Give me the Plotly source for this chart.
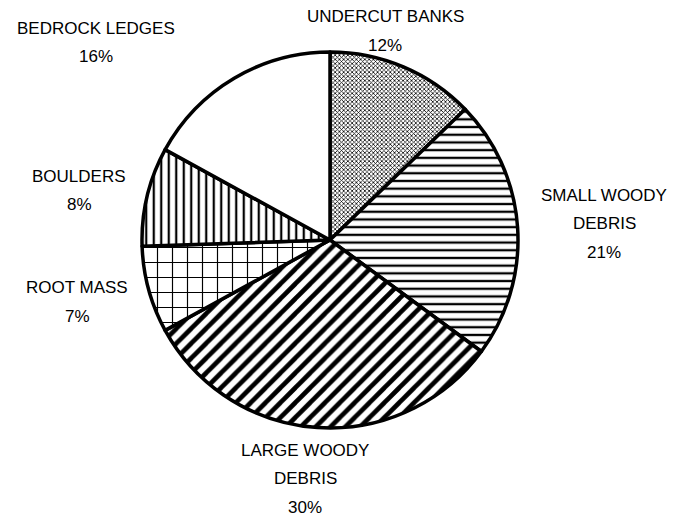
import plotly.graph_objects as go

# Habitat cover types, clockwise from 12 o'clock
categories = ["UNDERCUT BANKS", "SMALL WOODY DEBRIS", "LARGE WOODY DEBRIS",
              "ROOT MASS", "BOULDERS", "BEDROCK LEDGES"]
percent = [12, 21, 30, 7, 8, 16]

# Display lines for each category label
label_lines = [["UNDERCUT BANKS"], ["SMALL WOODY", "DEBRIS"], ["LARGE WOODY", "DEBRIS"],
               ["ROOT MASS"], ["BOULDERS"], ["BEDROCK LEDGES"]]

# Hatch styling per slice
shapes = ["x", "-", "/", "+", "|", ""]
sizes = [3, 7.7, 10.5, 15, 7.5, 8]
solid = [0.45, 0.3, 0.45, 0.15, 0.3, 0.2]

W, H = 691, 519
cx, cy, r = 330, 240, 188

fig = go.Figure(go.Pie(
    labels=categories,
    values=percent,
    sort=False,
    direction="clockwise",
    rotation=0,
    textinfo="none",
    hoverinfo="label+value",
    marker=dict(
        colors=["white"] * len(categories),
        line=dict(color="black", width=3.5),
        pattern=dict(shape=shapes, size=sizes, solidity=solid,
                     fgcolor="black", bgcolor="white", fgopacity=1,
                     fillmode="replace"),
    ),
    domain=dict(x=[(cx - r) / W, (cx + r) / W],
                y=[1 - (cy + r) / H, 1 - (cy - r) / H]),
    showlegend=False,
))

# Label anchor (x centre, y of first line) in pixels
label_pos = [(385, 17), (604, 195), (305, 450), (77, 288), (79, 176), (96, 28)]
pitch = 28.5

annotations = []
for lines, val, (lx, ly) in zip(label_lines, percent, label_pos):
    for i, t in enumerate(lines + [f"{val}%"]):
        annotations.append(dict(
            x=lx / W, y=1 - (ly + i * pitch) / H, xref="paper", yref="paper",
            text=t, showarrow=False, xanchor="center", yanchor="middle",
            font=dict(family="Liberation Sans, Arial", size=17, color="black"),
        ))

fig.update_layout(
    width=W, height=H,
    margin=dict(l=0, r=0, t=0, b=0),
    paper_bgcolor="white",
    plot_bgcolor="white",
    annotations=annotations,
)

fig.write_html("out.html")
